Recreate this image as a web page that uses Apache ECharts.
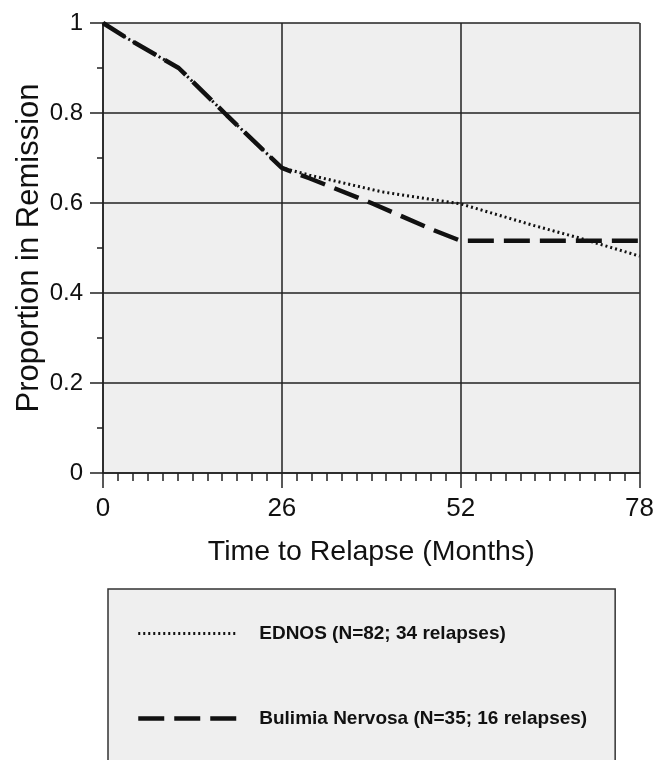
<!DOCTYPE html>
<html>
<head>
<meta charset="utf-8">
<script src="https://cdn.jsdelivr.net/npm/echarts@6/dist/echarts.min.js"></script>
<style>
html,body{margin:0;padding:0;background:#fff;}
#chart{width:657px;height:760px;}
</style>
</head>
<body>
<div id="chart"></div>
<script>
const xTicks = [0, 26, 52, 78];
const seriesNames = ['EDNOS (N=82; 34 relapses)', 'Bulimia Nervosa (N=35; 16 relapses)'];
const ednosMonths = [0, 3.5, 11, 18, 26, 30, 40.5, 52, 62.4, 69.3, 78];
const ednosValues = [1, 0.966, 0.9, 0.795, 0.678, 0.662, 0.625, 0.598, 0.551, 0.522, 0.482];
const bnMonths = [0, 3.5, 11, 18, 26, 30, 39, 48, 52, 78];
const bnValues = [1, 0.966, 0.9, 0.795, 0.678, 0.655, 0.6, 0.54, 0.516, 0.516];

const pair = (xs, ys) => xs.map((x, i) => [x, ys[i]]);
const FONT = 'Liberation Sans, Arial, sans-serif';
const ednosLine = {color: '#111', width: 3, type: [2, 3]};
const bnLine = {color: '#111', width: 4.5, type: [26, 10]};
const chart = echarts.init(document.getElementById('chart'), null, {renderer: 'canvas'});
chart.setOption({
  backgroundColor: '#ffffff',
  animation: false,
  grid: {left: 103, top: 23, right: 17, bottom: 287, show: true, backgroundColor: '#efefef', borderWidth: 0},
  xAxis: {
    type: 'value', min: 0, max: 78, interval: 26,
    name: 'Time to Relapse (Months)', nameLocation: 'middle', nameGap: 65, nameMoveOverlap: false,
    nameTextStyle: {fontFamily: FONT, fontSize: 28.5, color: '#111'},
    axisLine: {show: true, lineStyle: {color: '#222', width: 1.5}},
    axisTick: {show: true, length: 15, lineStyle: {color: '#222', width: 1.5}},
    minorTick: {show: true, splitNumber: 12, length: 8, lineStyle: {color: '#222', width: 1.5}},
    axisLabel: {fontFamily: FONT, fontSize: 26, color: '#111', margin: 23},
    splitLine: {show: true, lineStyle: {color: '#222', width: 1.5}}
  },
  yAxis: {
    type: 'value', min: 0, max: 1, interval: 0.2,
    name: 'Proportion in Remission', nameLocation: 'middle', nameGap: 58, nameMoveOverlap: false,
    nameTextStyle: {fontFamily: FONT, fontSize: 31, color: '#111'},
    axisLine: {show: true, lineStyle: {color: '#222', width: 1.5}},
    axisTick: {show: true, length: 13, lineStyle: {color: '#222', width: 1.5}},
    minorTick: {show: true, splitNumber: 2, length: 6, lineStyle: {color: '#222', width: 1.5}},
    axisLabel: {fontFamily: FONT, fontSize: 24, color: '#111', margin: 20},
    splitLine: {show: true, lineStyle: {color: '#222', width: 1.5}}
  },
  legend: {
    orient: 'vertical', left: 108, top: 589, height: 220,
    data: [
      {name: seriesNames[0], lineStyle: ednosLine},
      {name: seriesNames[1], lineStyle: bnLine}
    ],
    itemWidth: 100, itemHeight: 14, itemGap: 66,
    padding: [35, 28, 45, 28],
    backgroundColor: '#efefef', borderColor: '#333', borderWidth: 1.5, borderRadius: 0,
    itemStyle: {color: 'transparent', borderColor: 'transparent', borderWidth: 0, opacity: 0},
    textStyle: {fontFamily: FONT, fontWeight: 'bold', fontSize: 19, color: '#111', padding: [0, 0, 0, 16], width: 330, overflow: 'none'}
  },
  series: [
    {
      name: seriesNames[0], type: 'line', data: pair(ednosMonths, ednosValues),
      symbol: 'none', showSymbol: false, z: 2,
      lineStyle: ednosLine, itemStyle: {color: '#111'}
    },
    {
      name: seriesNames[1], type: 'line', data: pair(bnMonths, bnValues),
      symbol: 'none', showSymbol: false, z: 3,
      lineStyle: bnLine, itemStyle: {color: '#111'}
    }
  ]
});
</script>
</body>
</html>
